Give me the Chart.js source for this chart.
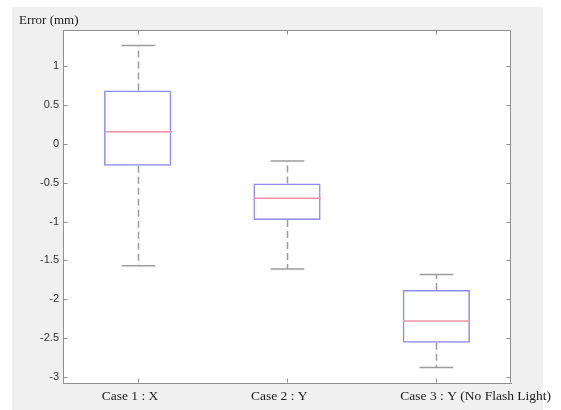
<!DOCTYPE html>
<html>
<head>
<meta charset="utf-8">
<script src="https://cdn.jsdelivr.net/npm/chart.js@4/dist/chart.umd.min.js"></script>
<style>
  html, body { margin: 0; padding: 0; background: #fff; }
  #wrap { position: relative; width: 561px; height: 410px; }
  #bg { position: absolute; left: 12px; top: 7px; width: 531px; height: 403px; background: #f0f0f0; }
  #chart { position: absolute; left: 0; top: 0; }
</style>
</head>
<body>
<div id="wrap">
  <div id="bg"></div>
  <canvas id="chart" width="561" height="410"></canvas>
</div>
<script>
// --- data ---
const categories = ["Case 1 : X", "Case 2 : Y", "Case 3 : Y (No Flash Light)"];
const whiskerLow = [-1.57, -1.61, -2.88];
const quartile1 = [-0.28, -0.98, -2.56];
const medians = [0.16, -0.70, -2.28];
const quartile3 = [0.69, -0.51, -1.88];
const whiskerHigh = [1.27, -0.22, -1.68];
const yTickValues = [-3, -2.5, -2, -1.5, -1, -0.5, 0, 0.5, 1];
const yLabel = "Error (mm)";

const axisColor = "#8f8f8f";
const whiskerColor = "#9d9d9d";
const boxColor = "#8a8af2";
const medianColor = "#f293a3";

// box outline = floating bar from q1 to q3
const boxData = categories.map((c, i) => [quartile1[i], quartile3[i]]);

// whiskers, caps, medians, the framing box and inward ticks
const boxplotExtras = {
  id: "boxplotExtras",
  beforeDraw(chart) {
    const { ctx, chartArea: a } = chart;
    ctx.save();
    ctx.fillStyle = "#fff";
    ctx.fillRect(a.left, a.top, a.right - a.left, a.bottom - a.top);
    ctx.restore();
  },
  afterDatasetsDraw(chart) {
    const { ctx, chartArea: a } = chart;
    const x = chart.scales.x, y = chart.scales.y;
    const bars = chart.getDatasetMeta(0).data;

    ctx.save();
    categories.forEach((c, i) => {
      const cx = Math.round(x.getPixelForValue(i)) + 0.5;
      const w = bars[i].width;
      const yLo = y.getPixelForValue(whiskerLow[i]);
      const yQ1 = y.getPixelForValue(quartile1[i]);
      const yQ3 = y.getPixelForValue(quartile3[i]);
      const yHi = y.getPixelForValue(whiskerHigh[i]);
      const yMed = y.getPixelForValue(medians[i]);

      // dashed whiskers
      ctx.strokeStyle = whiskerColor;
      ctx.lineWidth = 1.5;
      ctx.setLineDash([7, 4]);
      ctx.beginPath();
      ctx.moveTo(cx, yQ3); ctx.lineTo(cx, yHi);
      ctx.moveTo(cx, yQ1); ctx.lineTo(cx, yLo);
      ctx.stroke();

      // caps
      ctx.setLineDash([]);
      ctx.beginPath();
      ctx.moveTo(cx - w / 4, yHi); ctx.lineTo(cx + w / 4, yHi);
      ctx.moveTo(cx - w / 4, yLo); ctx.lineTo(cx + w / 4, yLo);
      ctx.stroke();

      // median
      ctx.strokeStyle = medianColor;
      ctx.lineWidth = 1.5;
      ctx.beginPath();
      ctx.moveTo(cx - w / 2, yMed); ctx.lineTo(cx + w / 2, yMed);
      ctx.stroke();
    });

    // top and right border + inward ticks
    ctx.strokeStyle = axisColor;
    ctx.lineWidth = 1;
    const L = a.left + 0.5, R = a.right - 0.5, T = a.top + 0.5, B = a.bottom - 0.5;
    ctx.beginPath();
    ctx.moveTo(L, T); ctx.lineTo(R, T); ctx.lineTo(R, B);
    yTickValues.forEach(v => {
      const py = Math.round(y.getPixelForValue(v)) + 0.5;
      ctx.moveTo(L, py); ctx.lineTo(L + 4, py);
      ctx.moveTo(R, py); ctx.lineTo(R - 4, py);
    });
    categories.forEach((c, i) => {
      const px = Math.round(x.getPixelForValue(i)) + 0.5;
      ctx.moveTo(px, B); ctx.lineTo(px, B - 4);
      ctx.moveTo(px, T); ctx.lineTo(px, T + 4);
    });
    ctx.stroke();

    // y label written across the top-left corner
    ctx.fillStyle = "#1a1a1a";
    ctx.font = "13px 'Liberation Serif'";
    ctx.textBaseline = "alphabetic";
    ctx.textAlign = "left";
    ctx.fillText(yLabel, 19, 24);
    ctx.restore();
  }
};

new Chart(document.getElementById("chart"), {
  type: "bar",
  data: {
    labels: categories,
    datasets: [{
      data: boxData,
      backgroundColor: "rgba(0,0,0,0)",
      borderColor: boxColor,
      borderWidth: 1.5,
      borderSkipped: false,
      barPercentage: 0.45,
      categoryPercentage: 1
    }]
  },
  options: {
    responsive: false,
    animation: false,
    layout: { padding: { top: 30, right: 50, left: 0, bottom: 0 } },
    plugins: { legend: { display: false }, tooltip: { enabled: false } },
    scales: {
      x: {
        grid: { display: false, drawTicks: false },
        border: { color: axisColor, width: 1 },
        ticks: {
          color: "#1a1a1a",
          font: { family: "'Liberation Serif'", size: 13.5 },
          align: "start",
          labelOffset: -36,
          padding: 5,
          maxRotation: 0,
          autoSkip: false
        },
        afterFit(s) {
          s.height = 27;
          s.paddingLeft = 0;
          s.paddingRight = 0;
        }
      },
      y: {
        min: -3.08,
        max: 1.47,
        grid: { display: false, drawTicks: false },
        border: { color: axisColor, width: 1 },
        afterBuildTicks(s) { s.ticks = yTickValues.map(v => ({ value: v })); },
        ticks: {
          color: "#333",
          font: { family: "'Liberation Sans'", size: 11 },
          padding: 4,
          callback: v => String(v)
        },
        afterFit(s) {
          s.width = 63;
          s.paddingTop = 0;
          s.paddingBottom = 0;
        }
      }
    }
  },
  plugins: [boxplotExtras]
});
</script>
</body>
</html>
